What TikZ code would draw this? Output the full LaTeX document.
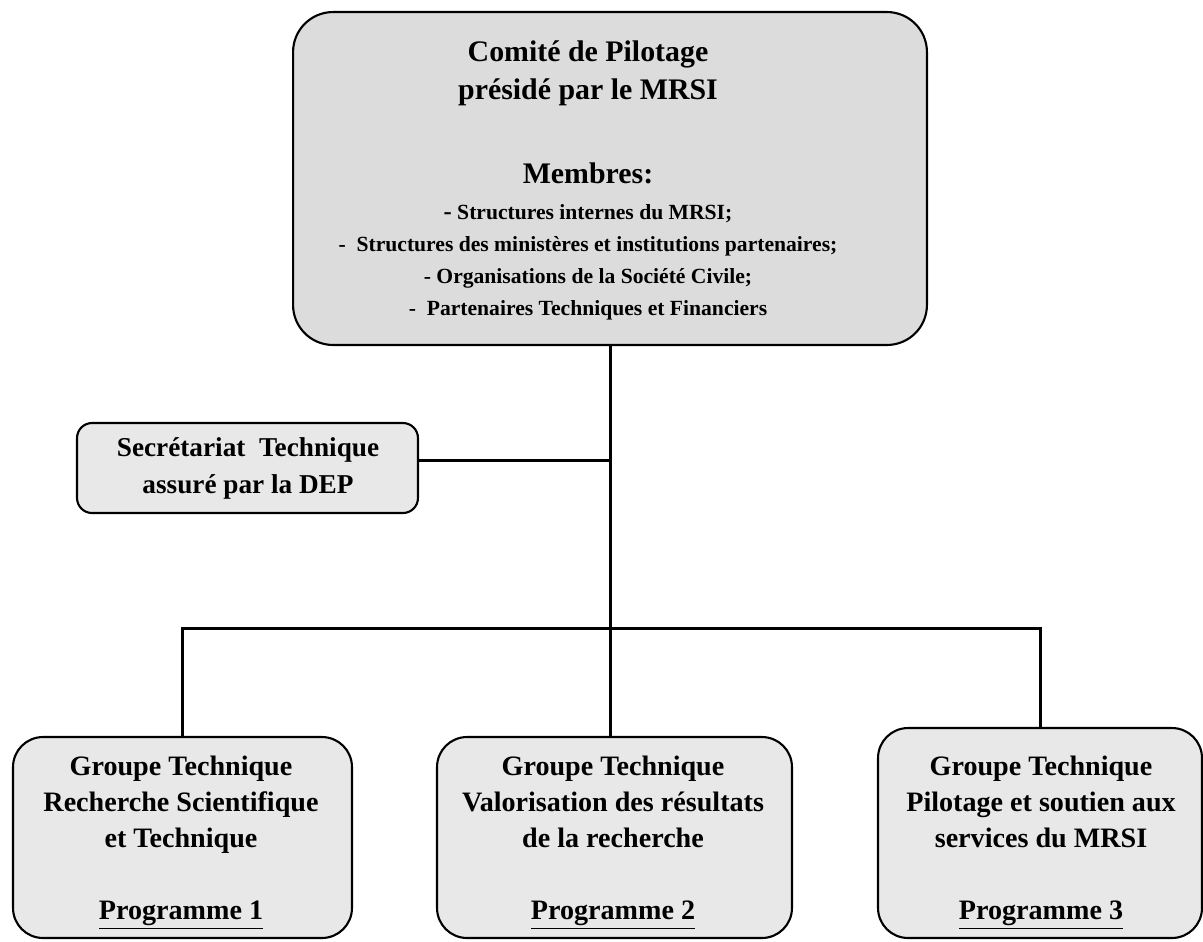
\documentclass[tikz,border=0pt]{standalone}
\usepackage{fontspec}
\setmainfont{Liberation Serif}
\definecolor{topfill}{HTML}{DCDCDC}
\definecolor{grpfill}{HTML}{E8E8E8}
\begin{document}
\begin{tikzpicture}[x=0.02cm,y=-0.02cm,
  box/.style={draw,line width=1.2pt,rounded corners=0.6cm,fill=grpfill,inner sep=0pt},
  txt/.style={align=center,inner sep=0pt,font=\bfseries\fontsize{16}{20.5}\selectfont},
  link/.style={line width=1.7pt}]
  \useasboundingbox (0,0) rectangle (1203,941);
  % boxes
  \node[box,fill=topfill,rounded corners=0.8cm,minimum width=12.68cm,minimum height=6.66cm] (comite) at (610,178.5) {};
  \node[box,rounded corners=0.3cm,minimum width=6.82cm,minimum height=1.8cm] (secr) at (247.5,468) {};
  \node[box,minimum width=6.78cm,minimum height=4.02cm] (gt1) at (182.5,837.5) {};
  \node[box,minimum width=7.1cm,minimum height=4.02cm] (gt2) at (614.5,837.5) {};
  \node[box,minimum width=6.48cm,minimum height=4.2cm] (gt3) at (1040,833) {};
  % texts
  \node[txt,font=\bfseries\fontsize{12.3}{18.2}\selectfont] (comitetxt) at (588,180)
    {{\fontsize{17}{20}\selectfont Comité de Pilotage}\\[3.4pt]
     {\fontsize{17}{20}\selectfont présidé par le MRSI}\\[30pt]
     {\fontsize{17}{20}\selectfont Membres:}\\[2pt]
     {\fontsize{14}{18}\selectfont -} Structures internes du MRSI;\\
     -\ \ Structures des ministères et institutions partenaires;\\
     - Organisations de la Société Civile;\\
     -\ \ Partenaires Techniques et Financiers};
  \node[txt,font=\bfseries\fontsize{15.5}{21}\selectfont] (secrtxt) at (248,468)
    {Secrétariat\ \ Technique\\ assuré\ par la DEP};
  \node[txt] (gt1txt) at (181,843)
    {Groupe Technique\\ Recherche Scientifique\\ et Technique\\[20.5pt] \underline{Programme 1}};
  \node[txt] (gt2txt) at (613,843)
    {Groupe Technique\\ Valorisation des résultats\\ de la recherche\\[20.5pt] \underline{Programme 2}};
  \node[txt] (gt3txt) at (1041,843)
    {Groupe Technique\\ Pilotage et soutien aux\\ services du MRSI\\[20.5pt] \underline{Programme 3}};
  % connectors
  \coordinate (junction) at (610,460);
  \coordinate (bus) at (610,628);
  \draw[link] (comite.south) -- (comite.south |- gt2.north);
  \draw[link] (junction -| secr.east) -- (junction);
  \draw[link] (gt1.north) |- (bus) -| (gt3.north);
\end{tikzpicture}
\end{document}
